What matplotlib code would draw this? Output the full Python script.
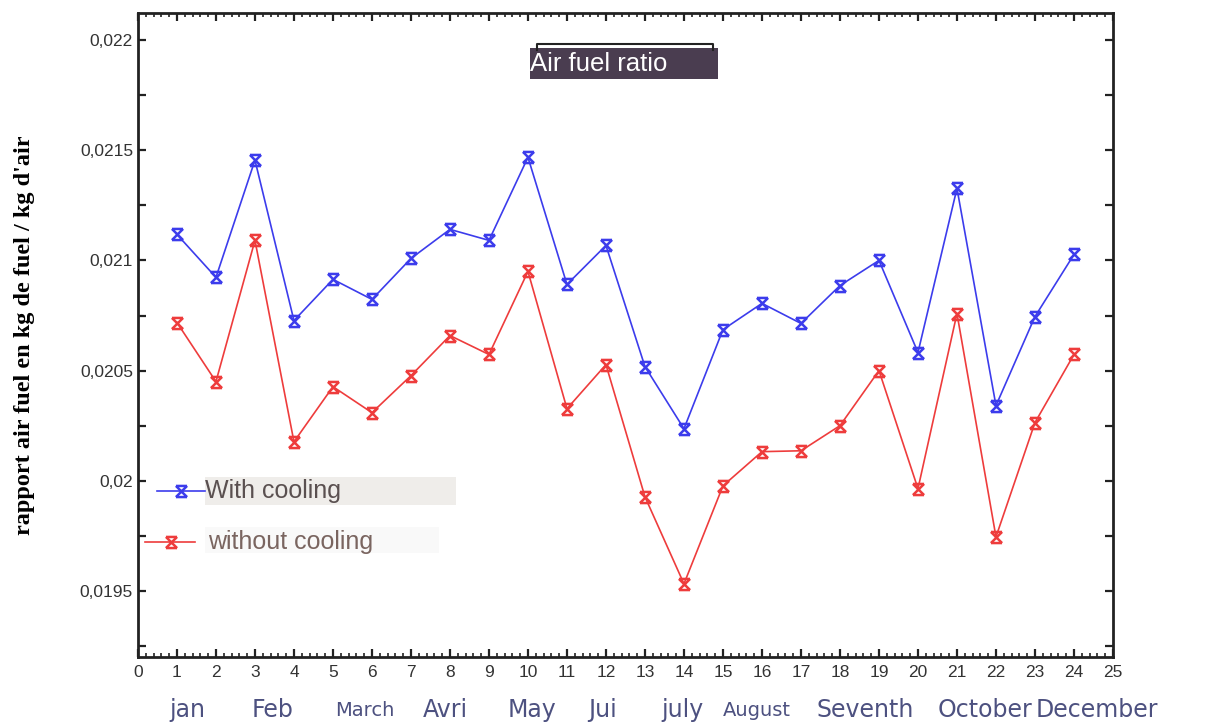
import numpy as np
import matplotlib
matplotlib.use("Agg")
import matplotlib.pyplot as plt
from matplotlib.path import Path
from matplotlib.ticker import MultipleLocator, FuncFormatter
from matplotlib.patches import Rectangle
from matplotlib.transforms import blended_transform_factory

# === data ===
days = list(range(1, 25))
with_cooling = [0.021118, 0.020923, 0.021455, 0.020727, 0.020914, 0.020823,
                0.021009, 0.021141, 0.021091, 0.021468, 0.020891, 0.021068,
                0.020518, 0.020236, 0.020686, 0.020805, 0.020714, 0.020886,
                0.021000, 0.020582, 0.021327, 0.020341, 0.020745, 0.021027]
without_cooling = [0.020718, 0.020450, 0.021091, 0.020177, 0.020427, 0.020309,
                   0.020477, 0.020659, 0.020573, 0.020950, 0.020327, 0.020527,
                   0.019927, 0.019532, 0.019977, 0.020132, 0.020136, 0.020250,
                   0.020500, 0.019964, 0.020759, 0.019745, 0.020264, 0.020573]
months = ["jan", "Feb", "March", "Avri", "May", "Jui", "july", "August",
          "Seventh", "October", "December"]
month_pos = [1.26, 3.44, 5.82, 7.87, 10.1, 11.92, 13.97, 15.87, 18.64, 21.72, 24.6]
small_months = ["March", "August"]

plt.rcParams["font.family"] = ["Liberation Sans", "DejaVu Sans"]

# hourglass marker: bar on top, X, bar at bottom
hourglass = Path(
    [(-1, 1), (1, 1), (-1, 1), (1, -1), (1, 1), (-1, -1), (-1, -1), (1, -1)],
    [Path.MOVETO, Path.LINETO, Path.MOVETO, Path.LINETO,
     Path.MOVETO, Path.LINETO, Path.MOVETO, Path.LINETO])

blue = "#3c3cec"
red = "#ee3c3c"

fig = plt.figure(figsize=(12.07, 7.27), dpi=100)
ax = fig.add_axes([0.1143, 0.0963, 0.8078, 0.8858])

ax.plot(days, with_cooling, color=blue, lw=1.2, marker=hourglass, ms=8,
        mew=1.8, mec=blue)
ax.plot(days, without_cooling, color=red, lw=1.2, marker=hourglass, ms=8,
        mew=1.8, mec=red)

ax.set_xlim(0, 25)
ax.set_ylim(0.0192, 0.022123)
ax.xaxis.set_major_locator(MultipleLocator(1))
ax.xaxis.set_minor_locator(MultipleLocator(0.2))
ax.yaxis.set_major_locator(MultipleLocator(0.0005))
ax.yaxis.set_minor_locator(MultipleLocator(0.00025))
ax.yaxis.set_major_formatter(FuncFormatter(lambda v, p: f"{v:.4f}".rstrip("0").replace(".", ",")))

ax.tick_params(which="both", direction="in", top=True, right=True,
               colors="#222222", labelcolor="#333333", labelsize=12.5)
ax.tick_params(which="major", length=6, width=1.6)
ax.tick_params(which="minor", length=3, width=1.2)
ax.tick_params(axis="y", which="minor", length=6, width=1.6)
ax.tick_params(axis="x", pad=6)
for s in ax.spines.values():
    s.set_linewidth(2)
    s.set_color("#222222")

ax.set_ylabel("rapport air fuel en kg de fuel / kg d'air", family="Liberation Serif",
              fontweight="bold", fontsize=17.5, labelpad=32)

# title box
ax.add_patch(Rectangle((0.402, 0.898), 0.193, 0.048, transform=ax.transAxes,
                       facecolor="#4a3d50", edgecolor="none"))
ax.plot([0.409, 0.409, 0.590, 0.590], [0.943, 0.952, 0.952, 0.943],
        transform=ax.transAxes, color="#222222", lw=1.5)
ax.text(0.402, 0.921, "Air fuel ratio", transform=ax.transAxes, color="white",
        fontsize=18.5, va="center", ha="left")

# hand-made legend
ax.add_patch(Rectangle((0.0687, 0.236), 0.258, 0.044, transform=ax.transAxes,
                       facecolor="#efedea", edgecolor="none"))
ax.add_patch(Rectangle((0.0687, 0.162), 0.24, 0.04, transform=ax.transAxes,
                       facecolor="#f9f9f9", edgecolor="none"))
ax.plot([0.02, 0.069], [0.258, 0.258], transform=ax.transAxes, color=blue, lw=1.2)
ax.plot([0.044], [0.258], transform=ax.transAxes, color=blue, marker=hourglass,
        ms=8, mew=1.8)
ax.plot([0.007, 0.058], [0.179, 0.179], transform=ax.transAxes, color=red, lw=1.2)
ax.plot([0.034], [0.179], transform=ax.transAxes, color=red, marker=hourglass,
        ms=8, mew=1.8)
ax.text(0.069, 0.258, "With cooling", transform=ax.transAxes, color="#5a5050",
        fontsize=18, va="center")
ax.text(0.072, 0.179, "without cooling", transform=ax.transAxes, color="#7a6560",
        fontsize=18, va="center")

# month names under the day numbers
trans = blended_transform_factory(ax.transData, ax.transAxes)
for name, xpos in zip(months, month_pos):
    size = 14 if name in small_months else 17
    ax.text(xpos, -0.083, name, transform=trans, ha="center", va="center",
            family="DejaVu Sans", fontsize=size, color="#4d5180", clip_on=False)

fig.savefig("out.png", dpi=100)
